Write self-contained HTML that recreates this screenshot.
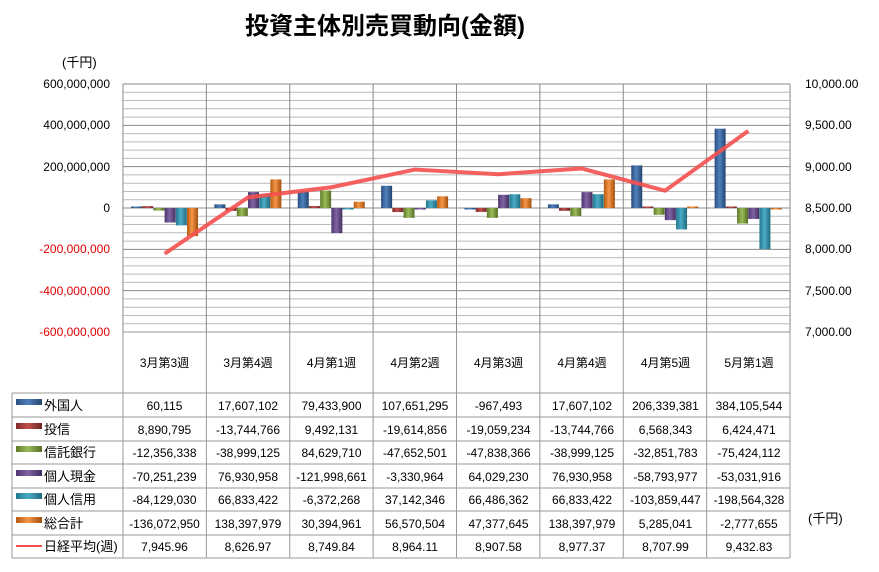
<!DOCTYPE html>
<html><head><meta charset="utf-8"><style>
body{margin:0;background:#fff;width:879px;height:567px;overflow:hidden;font-family:"Liberation Sans","Noto Sans CJK JP",sans-serif;}
svg text{font-family:"Liberation Sans","Noto Sans CJK JP",sans-serif;}
</style></head><body>
<svg id="s" width="879" height="567" xmlns="http://www.w3.org/2000/svg">
<defs>
<linearGradient id="g0" x1="0" x2="1"><stop offset="0" stop-color="#2a4d7f"/><stop offset=".45" stop-color="#4f81bd"/><stop offset="1" stop-color="#24446f"/></linearGradient>
<linearGradient id="g1" x1="0" x2="1"><stop offset="0" stop-color="#7f2a28"/><stop offset=".45" stop-color="#c0504d"/><stop offset="1" stop-color="#702522"/></linearGradient>
<linearGradient id="g2" x1="0" x2="1"><stop offset="0" stop-color="#5f7a2a"/><stop offset=".45" stop-color="#9bbb59"/><stop offset="1" stop-color="#566d25"/></linearGradient>
<linearGradient id="g3" x1="0" x2="1"><stop offset="0" stop-color="#4c3570"/><stop offset=".45" stop-color="#8064a2"/><stop offset="1" stop-color="#433062"/></linearGradient>
<linearGradient id="g4" x1="0" x2="1"><stop offset="0" stop-color="#22778d"/><stop offset=".45" stop-color="#4bacc6"/><stop offset="1" stop-color="#1f6a7e"/></linearGradient>
<linearGradient id="g5" x1="0" x2="1"><stop offset="0" stop-color="#b35a10"/><stop offset=".45" stop-color="#f79646"/><stop offset="1" stop-color="#a0500e"/></linearGradient>
</defs>
<text x="385" y="34" font-size="24" font-weight="bold" text-anchor="middle">投資主体別売買動向(金額)</text>
<text x="62" y="67" font-size="13">(千円)</text>
<g font-size="12" text-anchor="end">
<text x="110" y="88">600,000,000</text><text x="110" y="129">400,000,000</text><text x="110" y="171">200,000,000</text><text x="110" y="212">0</text>
<g fill="#e00000"><text x="110" y="253">-200,000,000</text><text x="110" y="295">-400,000,000</text><text x="110" y="336">-600,000,000</text></g>
</g>
<g font-size="12">
<text x="805" y="88">10,000.00</text><text x="805" y="129">9,500.00</text><text x="805" y="171">9,000.00</text><text x="805" y="212">8,500.00</text><text x="805" y="253">8,000.00</text><text x="805" y="295">7,500.00</text><text x="805" y="336">7,000.00</text>
<text x="808" y="523" font-size="13">(千円)</text>
</g>
<g id="grid"></g><g id="bars"></g>
<polyline id="ln" fill="none" stroke="#f4504f" stroke-opacity=".9" stroke-width="4" stroke-linejoin="round"/>
<g id="tbl" stroke="#999" stroke-width="1" fill="none"></g>
<g font-size="12" text-anchor="middle">
<text x="164.5" y="367">3月第3週</text><text x="248" y="367">3月第4週</text><text x="331.5" y="367">4月第1週</text><text x="415" y="367">4月第2週</text><text x="498.5" y="367">4月第3週</text><text x="582" y="367">4月第4週</text><text x="665.5" y="367">4月第5週</text><text x="749" y="367">5月第1週</text>
</g>
<g font-size="12" text-anchor="middle" id="vals">
<g transform="translate(0,410)"><text x="164.5">60,115</text><text x="248">17,607,102</text><text x="331.5">79,433,900</text><text x="415">107,651,295</text><text x="498.5">-967,493</text><text x="582">17,607,102</text><text x="665.5">206,339,381</text><text x="749">384,105,544</text></g>
<g transform="translate(0,434)"><text x="164.5">8,890,795</text><text x="248">-13,744,766</text><text x="331.5">9,492,131</text><text x="415">-19,614,856</text><text x="498.5">-19,059,234</text><text x="582">-13,744,766</text><text x="665.5">6,568,343</text><text x="749">6,424,471</text></g>
<g transform="translate(0,457)"><text x="164.5">-12,356,338</text><text x="248">-38,999,125</text><text x="331.5">84,629,710</text><text x="415">-47,652,501</text><text x="498.5">-47,838,366</text><text x="582">-38,999,125</text><text x="665.5">-32,851,783</text><text x="749">-75,424,112</text></g>
<g transform="translate(0,481)"><text x="164.5">-70,251,239</text><text x="248">76,930,958</text><text x="331.5">-121,998,661</text><text x="415">-3,330,964</text><text x="498.5">64,029,230</text><text x="582">76,930,958</text><text x="665.5">-58,793,977</text><text x="749">-53,031,916</text></g>
<g transform="translate(0,504)"><text x="164.5">-84,129,030</text><text x="248">66,833,422</text><text x="331.5">-6,372,268</text><text x="415">37,142,346</text><text x="498.5">66,486,362</text><text x="582">66,833,422</text><text x="665.5">-103,859,447</text><text x="749">-198,564,328</text></g>
<g transform="translate(0,528)"><text x="164.5">-136,072,950</text><text x="248">138,397,979</text><text x="331.5">30,394,961</text><text x="415">56,570,504</text><text x="498.5">47,377,645</text><text x="582">138,397,979</text><text x="665.5">5,285,041</text><text x="749">-2,777,655</text></g>
<g transform="translate(0,551)"><text x="164.5">7,945.96</text><text x="248">8,626.97</text><text x="331.5">8,749.84</text><text x="415">8,964.11</text><text x="498.5">8,907.58</text><text x="582">8,977.37</text><text x="665.5">8,707.99</text><text x="749">9,432.83</text></g>
</g>
<g font-size="13">
<rect x="16" y="399" width="26" height="6" fill="url(#g0)"/><text x="44" y="410">外国人</text>
<rect x="16" y="423" width="26" height="6" fill="url(#g1)"/><text x="44" y="434">投信</text>
<rect x="16" y="446" width="26" height="6" fill="url(#g2)"/><text x="44" y="457">信託銀行</text>
<rect x="16" y="470" width="26" height="6" fill="url(#g3)"/><text x="44" y="481">個人現金</text>
<rect x="16" y="493" width="26" height="6" fill="url(#g4)"/><text x="44" y="504">個人信用</text>
<rect x="16" y="517" width="26" height="6" fill="url(#g5)"/><text x="44" y="528">総合計</text>
<line x1="16" y1="546" x2="42" y2="546" stroke="#f4504f" stroke-width="2"/><text x="44" y="551">日経平均(週)</text>
</g>
</svg>
<script>
var NS="http://www.w3.org/2000/svg";
function el(p,t,a){var e=document.createElementNS(NS,t);for(var k in a)e.setAttribute(k,a[k]);document.getElementById(p).appendChild(e);return e;}
var L=123,R=790,cw=(R-L)/8,T=84,B=332,Z=208,k=41.3/200e6;
for(var i=0;i<=30;i++){var y=T+i*(B-T)/30;el("grid","line",{x1:L,x2:R,y1:y,y2:y,stroke:i%5==0?"#888":"#bbb","stroke-width":1});}
for(var i=0;i<=8;i++){var x=L+i*cw;el("grid","line",{x1:x,x2:x,y1:T,y2:B,stroke:"#888"});}
var d=[[60115,8890795,-12356338,-70251239,-84129030,-136072950],[17607102,-13744766,-38999125,76930958,66833422,138397979],[79433900,9492131,84629710,-121998661,-6372268,30394961],[107651295,-19614856,-47652501,-3330964,37142346,56570504],[-967493,-19059234,-47838366,64029230,66486362,47377645],[17607102,-13744766,-38999125,76930958,66833422,138397979],[206339381,6568343,-32851783,-58793977,-103859447,5285041],[384105544,6424471,-75424112,-53031916,-198564328,-2777655]];
var n=[7945.96,8626.97,8749.84,8964.11,8907.58,8977.37,8707.99,9432.83],pts=[];
for(var c=0;c<8;c++){for(var s=0;s<6;s++){var v=d[c][s],h=Math.max(Math.abs(v)*k,1.5),x=L+c*cw+8+s*11.2;el("bars","rect",{x:x,width:11,y:v>0?Z-h:Z,height:h,fill:"url(#g"+s+")"});}
pts.push((L+c*cw+cw/2)+","+(T+(10000-n[c])/500*41.3));}
document.getElementById("ln").setAttribute("points",pts.join(" "));
var rows=[332,393,417,441,464,488,511,535,558];
rows.forEach(function(y,i){el("tbl","line",{x1:i==0?123:12,x2:R,y1:y,y2:y});});
for(var i=0;i<=8;i++){var x=L+i*cw;el("tbl","line",{x1:x,x2:x,y1:332,y2:558});}
el("tbl","line",{x1:12,x2:12,y1:393,y2:558});
</script>
</body></html>
